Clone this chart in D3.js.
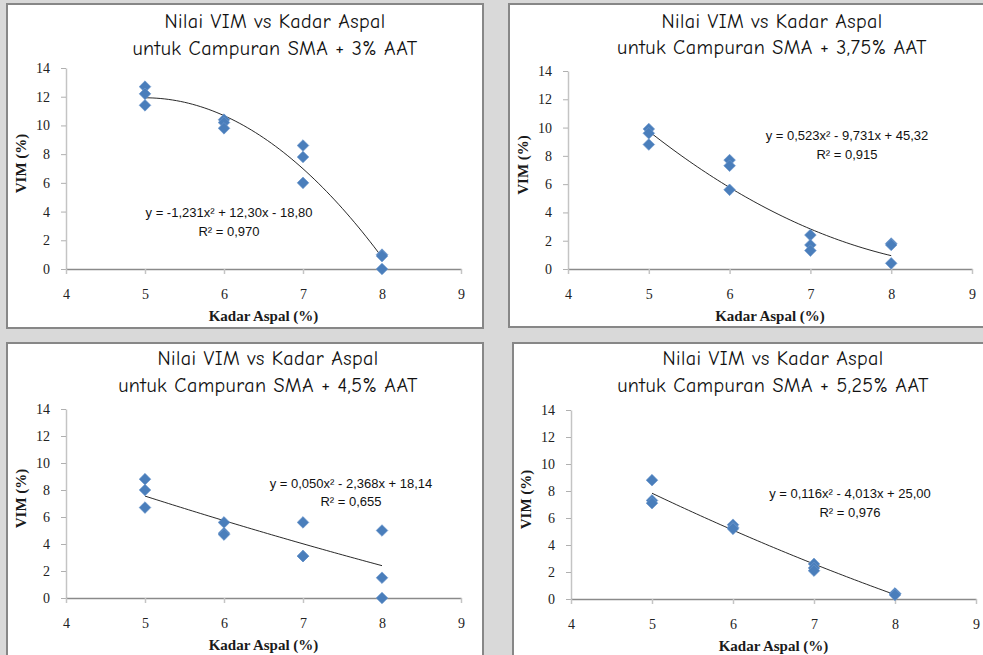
<!DOCTYPE html>
<html>
<head>
<meta charset="utf-8">
<script src="https://cdn.jsdelivr.net/npm/d3@7"></script>
<style>
  html, body { margin: 0; padding: 0; background: #d9d9d9; }
  svg { display: block; }
</style>
</head>
<body>
<svg id="chart" width="983" height="655"></svg>
<script>
// Kadar aspal (%) for every specimen, shared by all four mixes
const kadarAspal = [5, 5, 5, 6, 6, 6, 7, 7, 7, 8, 8, 8];

// VIM (%) per specimen for each AAT content
const vim3   = [12.7, 12.2, 11.4, 10.4, 10.2, 9.8, 8.6, 7.8, 6.0, 1.0, 0.9, 0.0];
const vim375 = [9.9, 9.6, 8.8, 7.7, 7.3, 5.6, 2.4, 1.7, 1.3, 1.8, 1.7, 0.4];
const vim45  = [8.8, 8.0, 6.7, 5.6, 4.8, 4.7, 5.6, 3.1, 3.1, 5.0, 1.5, 0.0];
const vim525 = [8.8, 7.3, 7.1, 5.5, 5.3, 5.2, 2.6, 2.3, 2.1, 0.4, 0.4, 0.3];

// Polynomial (order 2) trend coefficients: y = a x^2 + b x + c
const coefA = [-1.231, 0.523, 0.050, 0.116];
const coefB = [12.30, -9.731, -2.368, -4.013];
const coefC = [-18.80, 45.32, 18.14, 25.00];

const aatLabels = ["3%", "3,75%", "4,5%", "5,25%"];
const equationLabels = [
  "y = -1,231x\u00B2 + 12,30x - 18,80",
  "y = 0,523x\u00B2 - 9,731x + 45,32",
  "y = 0,050x\u00B2 - 2,368x + 18,14",
  "y = 0,116x\u00B2 - 4,013x + 25,00"
];
const r2Labels = ["R\u00B2 = 0,970", "R\u00B2 = 0,915", "R\u00B2 = 0,655", "R\u00B2 = 0,976"];

const xTicks = [4, 5, 6, 7, 8, 9];
const yTicks = [0, 2, 4, 6, 8, 10, 12, 14];
const trendRange = [5, 8];

const seriesList = [vim3, vim375, vim45, vim525];

// Panel frames and plot areas
const layouts = [
  { box: [7, 4, 476, 324],   px: [66, 461],  py: [269, 68],  title: [275, 28, 55],  eq: [229, 217, 236] },
  { box: [509, 4, 490, 323], px: [568, 972], py: [269, 71],  title: [772, 28, 54],  eq: [847, 140, 159] },
  { box: [7, 343, 476, 330], px: [66, 461],  py: [598, 409], title: [268, 365, 392], eq: [351, 488, 506] },
  { box: [513, 343, 490, 330], px: [571, 976], py: [599, 410], title: [773, 365, 392], eq: [850, 498, 517] }
];

const svg = d3.select("#chart");
const titleFont = "'Comic Neue', 'Comic Sans MS', Lato, 'Open Sans', sans-serif";
const serif = "'Liberation Serif', 'Times New Roman', serif";
const sans = "'Liberation Sans', Arial, sans-serif";

layouts.forEach((L, i) => {
  const g = svg.append("g");
  const [bx, by, bw, bh] = L.box;

  g.append("rect")
    .attr("x", bx).attr("y", by).attr("width", bw).attr("height", bh)
    .attr("fill", "#ffffff").attr("stroke", "#878787").attr("stroke-width", 2);

  const x = d3.scaleLinear().domain([4, 9]).range(L.px);
  const y = d3.scaleLinear().domain([0, 14]).range(L.py);

  // Title (two lines)
  const t = g.append("text")
    .attr("text-anchor", "middle")
    .attr("font-family", titleFont)
    .attr("font-size", 20)
    .attr("letter-spacing", 0.4)
    .attr("fill", "#111");
  t.append("tspan").attr("x", L.title[0]).attr("y", L.title[1]).text("Nilai VIM vs Kadar Aspal");
  t.append("tspan").attr("x", L.title[0]).attr("y", L.title[2])
    .text("untuk Campuran SMA + " + aatLabels[i] + " AAT");

  // Y axis
  const yAxis = g.append("g")
    .attr("transform", `translate(${L.px[0]},0)`)
    .call(d3.axisLeft(y).tickValues(yTicks).tickFormat(d3.format("d")).tickSize(5).tickSizeOuter(0).tickPadding(11));
  yAxis.select(".domain").attr("stroke", "#c4c4c4").attr("stroke-width", 1.5);
  yAxis.selectAll(".tick line").attr("stroke", "#b0b0b0");
  yAxis.selectAll(".tick text")
    .attr("font-family", serif).attr("font-size", 14).attr("fill", "#222");

  // X axis
  const xAxis = g.append("g")
    .attr("transform", `translate(0,${L.py[0]})`)
    .call(d3.axisBottom(x).tickValues(xTicks).tickFormat(d3.format("d")).tickSize(5).tickSizeOuter(0).tickPadding(15));
  xAxis.select(".domain").attr("stroke", "#8a8a8a").attr("stroke-width", 1.5);
  xAxis.selectAll(".tick line").attr("stroke", "#c4c4c4").attr("stroke-width", 1.5);
  xAxis.selectAll(".tick text")
    .attr("font-family", serif).attr("font-size", 14).attr("fill", "#222");

  // Axis titles
  const xMid = (L.px[0] + L.px[1]) / 2;
  g.append("text")
    .attr("x", xMid).attr("y", L.py[0] + 52)
    .attr("text-anchor", "middle")
    .attr("font-family", serif).attr("font-weight", "bold").attr("font-size", 15)
    .attr("fill", "#1a1a1a")
    .text("Kadar Aspal (%)");

  const yMid = (L.py[0] + L.py[1]) / 2 - 5;
  g.append("text")
    .attr("transform", `translate(${L.px[0] - 40},${yMid}) rotate(-90)`)
    .attr("text-anchor", "middle")
    .attr("font-family", serif).attr("font-weight", "bold").attr("font-size", 15)
    .attr("fill", "#1a1a1a")
    .text("VIM (%)");

  // Polynomial trendline
  const samples = d3.range(trendRange[0], trendRange[1] + 1e-9, 0.05);
  const line = d3.line()
    .x(d => x(d))
    .y(d => y(coefA[i] * d * d + coefB[i] * d + coefC[i]));
  g.append("path")
    .datum(samples)
    .attr("d", line)
    .attr("fill", "none")
    .attr("stroke", "#111")
    .attr("stroke-width", 0.9);

  // Data markers (diamonds)
  const diamond = d3.symbol().type(d3.symbolSquare).size(68);
  const values = seriesList[i];
  g.selectAll(".pt")
    .data(kadarAspal.map((k, j) => [k, values[j]]))
    .join("path")
    .attr("class", "pt")
    .attr("d", diamond)
    .attr("transform", d => `translate(${x(d[0])},${y(d[1])}) rotate(45)`)
    .attr("fill", "#4a7ebb")
    .attr("stroke", "#6b96cc")
    .attr("stroke-width", 0.6);

  // Trend equation and R²
  const eq = g.append("text")
    .attr("text-anchor", "middle")
    .attr("font-family", sans)
    .attr("font-size", 13)
    .attr("fill", "#111");
  eq.append("tspan").attr("x", L.eq[0]).attr("y", L.eq[1]).text(equationLabels[i]);
  eq.append("tspan").attr("x", L.eq[0]).attr("y", L.eq[2]).text(r2Labels[i]);
});
</script>
</body>
</html>
